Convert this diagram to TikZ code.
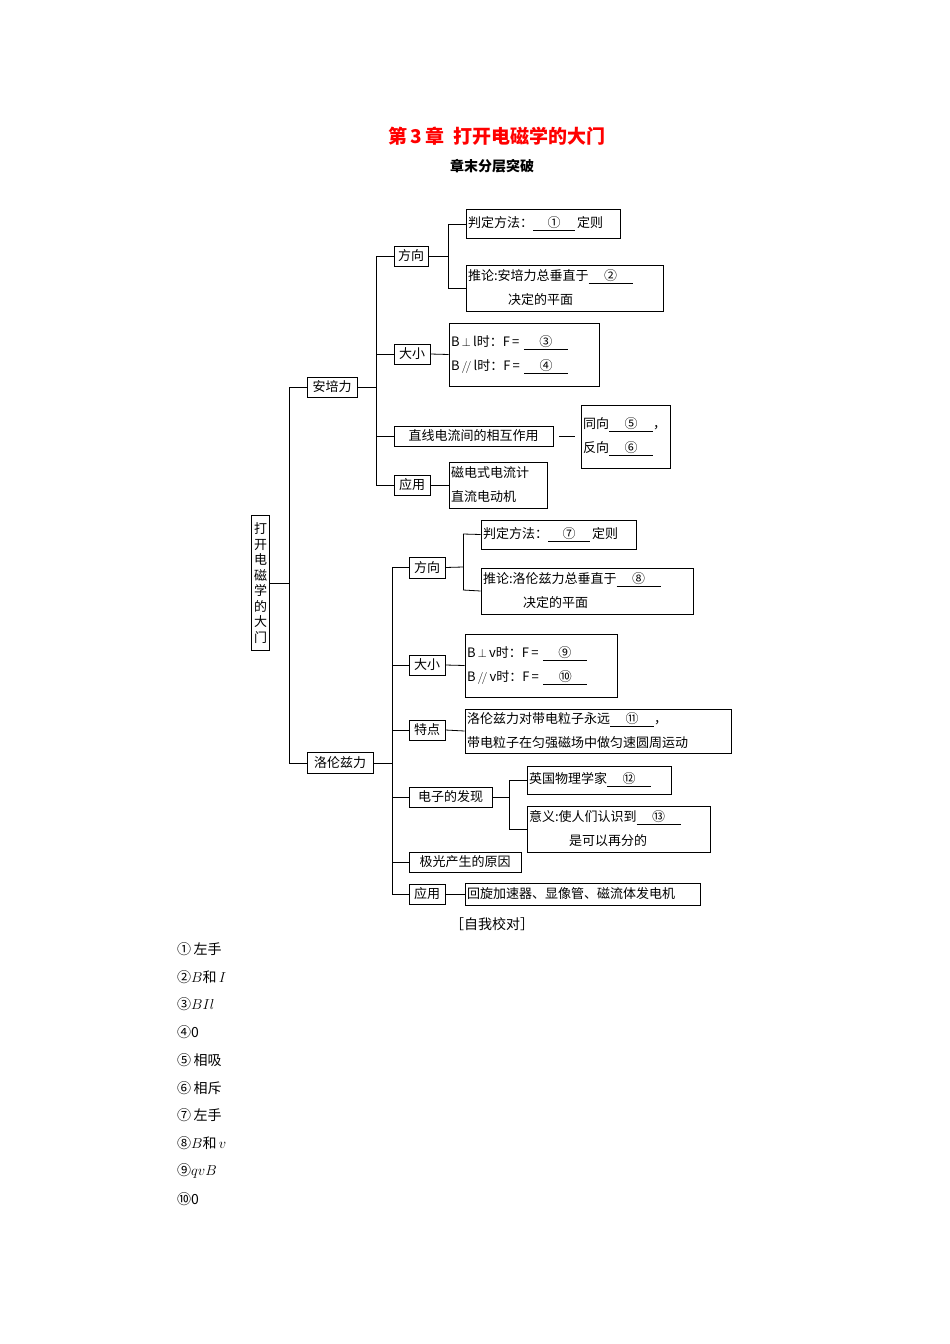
\documentclass[tikz,border=0pt]{standalone}
\usepackage{fontspec}
\setmainfont{Noto Sans CJK SC}
\newfontfamily\lmr{Latin Modern Roman}
\newcommand{\blank}[2]{\underline{\makebox[#1pt]{#2}}}
\begin{document}
\begin{tikzpicture}[x=1pt,y=-1pt,
  bx/.style={draw,line width=0.8pt,inner xsep=2pt,inner ysep=0pt,align=left,font=\fontsize{13}{24}\selectfont},
  sb/.style={bx,align=center,double=white,double distance=0pt},
  ln/.style={line width=0.8pt}]
\useasboundingbox (0,0) rectangle (950,1344);
\node[text=red,font=\fontsize{19}{22}\selectfont\bfseries] (t) at (497,136) {第\,3\,章\ \ 打开电磁学的大门};
\node[font=\fontsize{14}{16}\selectfont\bfseries] (t2) at (492,166) {章末分层突破};

\node[bx,align=center,text width=14pt,minimum height=135pt,font=\fontsize{13}{15.5}\selectfont] (root) at (260.5,583) {打\\开\\电\\磁\\学\\的\\大\\门};
\node[bx,minimum width=50pt,minimum height=20pt] (A) at (332,387) {安培力};
\node[bx,minimum width=66pt,minimum height=21pt] (L) at (340,763) {洛伦兹力};

\node[bx,minimum width=34pt,minimum height=20pt] (A1) at (411,256) {方向};
\node[bx,text width=150pt,minimum height=29pt] (A11) at (543,224) {判定方法：\blank{42}{①}\,定则};
\node[bx,text width=193pt,minimum height=46pt] (A12) at (564.5,288) {推论:安培力总垂直于\blank{44}{②}\\\hspace*{40pt}决定的平面};
\node[bx,minimum width=36pt,minimum height=20pt] (A2) at (412,354) {大小};
\node[bx,text width=146pt,minimum height=63pt] (A21) at (524,354.5) {B\,$\perp$\,\textit{l}时：F\,=\ \blank{44}{③}\\B\,$/\!/$\,\textit{l}时：F\,=\ \blank{44}{④}};
\node[bx,minimum width=159pt,minimum height=20pt] (A3) at (473.5,436) {直线电流间的相互作用};
\node[bx,text width=85pt,minimum height=63pt] (A31) at (625.5,436.5) {同向\blank{44}{⑤}，\\反向\blank{44}{⑥}};
\node[bx,minimum width=36pt,minimum height=20pt] (A4) at (412,485) {应用};
\node[bx,text width=94pt,minimum height=46pt] (A41) at (498,485) {磁电式电流计\\直流电动机};

\node[bx,minimum width=36pt,minimum height=21pt] (L1) at (427,567.5) {方向};
\node[bx,text width=151pt,minimum height=29pt] (L11) at (558.5,534.5) {判定方法：\blank{42}{⑦}\,定则};
\node[bx,text width=208pt,minimum height=46pt] (L12) at (587,591) {推论:洛伦兹力总垂直于\blank{44}{⑧}\\\hspace*{40pt}决定的平面};
\node[bx,minimum width=36pt,minimum height=20pt] (L2) at (427,665) {大小};
\node[bx,text width=148pt,minimum height=63pt] (L21) at (541,665.5) {B\,$\perp$\,\textit{v}时：F\,=\ \blank{44}{⑨}\\B\,$/\!/$\,\textit{v}时：F\,=\ \blank{44}{⑩}};
\node[bx,minimum width=36pt,minimum height=20pt] (L3) at (427,730) {特点};
\node[bx,text width=262pt,minimum height=44pt] (L31) at (598,731) {洛伦兹力对带电粒子永远\blank{44}{⑪}，\\带电粒子在匀强磁场中做匀速圆周运动};
\node[bx,minimum width=83pt,minimum height=20pt] (L4) at (450.5,797) {电子的发现};
\node[bx,text width=140pt,minimum height=28pt] (L41) at (599,780) {英国物理学家\blank{44}{⑫}};
\node[bx,text width=179pt,minimum height=46pt] (L42) at (618.5,829) {意义:使人们认识到\blank{44}{⑬}\\\hspace*{40pt}是可以再分的};
\node[bx,minimum width=112pt,minimum height=20pt] (L5) at (465,862) {极光产生的原因};
\node[bx,minimum width=36pt,minimum height=20pt] (L6) at (427,894) {应用};
\node[bx,text width=231pt,minimum height=22pt] (L61) at (582.5,894) {回旋加速器、显像管、磁流体发电机};

% connectors
\draw[ln] (root.east) -- (289,583);
\draw[ln] (289,387) -- (A.west); \draw[ln] (289,763) -- (L.west); \draw[ln] (289,387) -- (289,763);
\draw[ln] (A.east) -- (376,387); \draw[ln] (376,256) -- (376,485);
\foreach \n in {A1,A2,A3,A4} \draw[ln] (376,0 |- \n.west) -- (\n.west);
\draw[ln] (A1.east) -- (448,256); \draw[ln] (448,224) -- (448,288);
\draw[ln] (448,224) -- (A11.west); \draw[ln] (448,288) -- (A12.west);
\draw[ln] (A2.east) -- (A21.west);
\draw[ln] (559,436) -- (575,436);
\draw[ln] (A4.east) -- (A41.west);
\draw[ln] (L.east) -- (392,763); \draw[ln] (392,567) -- (392,894);
\foreach \n in {L1,L2,L3,L4,L5,L6} \draw[ln] (392,0 |- \n.west) -- (\n.west);
\draw[ln] (L1.east) -- (463,567); \draw[ln] (463,534) -- (463,590);
\draw[ln] (463,534) -- (L11.west); \draw[ln] (463,590) -- (L12.west);
\draw[ln] (L2.east) -- (L21.west);
\draw[ln] (L3.east) -- (L31.west);
\draw[ln] (L4.east) -- (509,797); \draw[ln] (509,780) -- (509,829);
\draw[ln] (509,780) -- (L41.west); \draw[ln] (509,829) -- (L42.west);
\draw[ln] (L6.east) -- (L61.west);

\node[font=\fontsize{14}{16}\selectfont] (sj) at (492,924) {［自我校对］};
\begin{scope}[every node/.style={anchor=west,inner sep=0pt,font=\fontsize{14}{16}\selectfont}]
\node (a1) at (177,949) {①\,左手};
\node (a2) at (177,977) {②$B$和\,$I$};
\node (a3) at (177,1004) {③$BIl$};
\node (a4) at (177,1032) {④0};
\node (a5) at (177,1060) {⑤\,相吸};
\node (a6) at (177,1088) {⑥\,相斥};
\node (a7) at (177,1115) {⑦\,左手};
\node (a8) at (177,1143) {⑧$B$和\,$v$};
\node (a9) at (177,1171) {⑨$qvB$};
\node (a10) at (177,1199) {⑩0};
\end{scope}
\end{tikzpicture}
\end{document}
